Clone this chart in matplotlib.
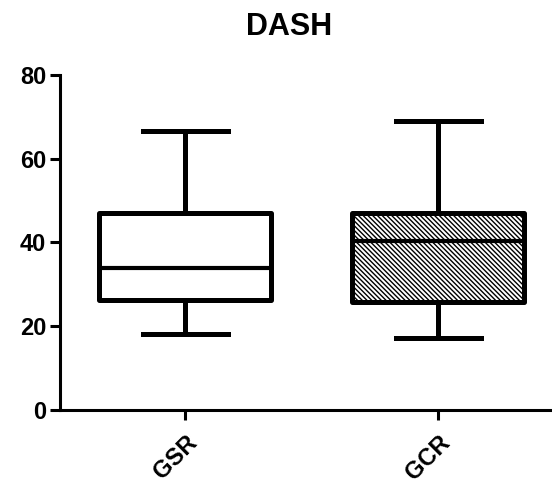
import matplotlib
matplotlib.use("Agg")
import matplotlib.pyplot as plt

plt.rcParams["font.family"] = ["Liberation Sans", "DejaVu Sans"]
plt.rcParams["hatch.linewidth"] = 1.0

groups = ["GSR", "GCR"]
whislo = [18.1, 17.2]
q1 = [26.3, 25.8]
med = [33.9, 40.4]
q3 = [47.0, 47.0]
whishi = [66.6, 69.0]
hatches = ["", "\\" * 7]

stats = []
for i, g in enumerate(groups):
    stats.append({"label": g, "whislo": whislo[i], "q1": q1[i], "med": med[i],
                  "q3": q3[i], "whishi": whishi[i], "fliers": []})

fig = plt.figure(figsize=(5.52, 4.83), dpi=100)
ax = fig.add_axes([0.109, 0.151, 0.891, 0.694])

bp = ax.bxp(stats, positions=[1, 2], widths=0.68, patch_artist=True,
            showfliers=False, capwidths=0.336,
            boxprops=dict(linewidth=3.6, edgecolor="black", facecolor="white"),
            whiskerprops=dict(linewidth=3.6, color="black"),
            capprops=dict(linewidth=3.6, color="black"),
            medianprops=dict(linewidth=3.0, color="black"))
for patch, h in zip(bp["boxes"], hatches):
    patch.set_hatch(h)
    patch.set_joinstyle("round")

ax.set_xlim(0.506, 2.45)
ax.set_ylim(0, 80)
ax.set_yticks([0, 20, 40, 60, 80])
ax.set_xticks([1, 2])
ax.set_xticklabels(groups, rotation=45, ha="right", va="top", rotation_mode="anchor",
                   fontsize=17, fontweight="bold")
for lab in ax.get_yticklabels():
    lab.set_fontsize(17)
    lab.set_fontweight("bold")

for s in ["top", "right"]:
    ax.spines[s].set_visible(False)
for s in ["left", "bottom"]:
    ax.spines[s].set_linewidth(2.2)
ax.tick_params(width=2.2, length=7, pad=3)
ax.tick_params(axis="x", pad=8)

fig.text(0.5236, 1 - 35 / 483, "DASH", fontsize=22, fontweight="bold",
         ha="center", va="baseline")

fig.savefig("out.png", dpi=100)
